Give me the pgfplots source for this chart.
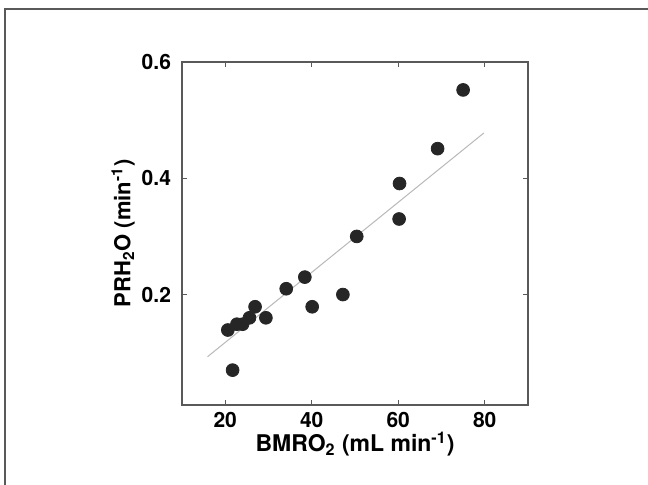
\documentclass[border=0pt]{standalone}
\usepackage{pgfplots}
\pgfplotsset{compat=1.18}
\usepackage{fontspec}
\setmainfont{TeX Gyre Heros}
\definecolor{framecol}{gray}{0.35}
\definecolor{dotcol}{gray}{0.15}
\begin{document}
\begin{tikzpicture}
\useasboundingbox (-91pt,-39.5pt) rectangle (233pt,202.5pt);
\fill[white] (-91pt,-39.5pt) rectangle (233pt,202.5pt);
\draw[framecol, line width=1pt] (-88.5pt,-40pt) -- (-88.5pt,198pt) -- (234pt,198pt);
\begin{axis}[
  at={(0,0)}, anchor=south west,
  scale only axis,
  width=173pt, height=171.5pt,
  xmin=10, xmax=90, ymin=0.01, ymax=0.6,
  xtick={20,40,60,80}, ytick={0.2,0.4,0.6},
  tick align=inside, major tick length=2.5pt,
  tick style={gray!70!black, line width=0.5pt},
  axis line style={gray!70!black, line width=0.7pt},
  /pgf/number format/assume math mode=true,
  yticklabel style={/pgf/number format/fixed, /pgf/number format/fixed zerofill, /pgf/number format/precision=1, xshift=-2pt},
  ticklabel style={font=\fontsize{10.5}{12}\selectfont\bfseries},
  xticklabel style={yshift=0pt},
  xlabel={BMRO\textsubscript{2} (mL min\textsuperscript{-1})},
  ylabel={PRH\textsubscript{2}O (min\textsuperscript{-1})},
  xlabel style={font=\fontsize{11.5}{14}\selectfont\bfseries, at={(axis description cs:0.5,-0.137)}, anchor=base},
  ylabel style={font=\fontsize{11}{13}\selectfont\bfseries, at={(axis description cs:-0.170,0.5)}, anchor=center},
  clip=false,
]
\addplot[gray!55, line width=0.5pt] coordinates {(15.9,0.093) (79.8,0.478)};
\addplot[only marks, mark=*, mark size=3.2pt, mark options={fill=dotcol, draw=dotcol}] coordinates {
(20.6,0.139) (21.7,0.070) (22.7,0.149) (24.0,0.149) (25.6,0.160) (26.9,0.179)
(29.4,0.160) (34.1,0.210) (38.4,0.230) (40.1,0.179) (47.2,0.200) (50.4,0.300)
(60.2,0.330) (60.3,0.391) (69.1,0.451) (75.0,0.552)
};
\end{axis}
\end{tikzpicture}
\end{document}
